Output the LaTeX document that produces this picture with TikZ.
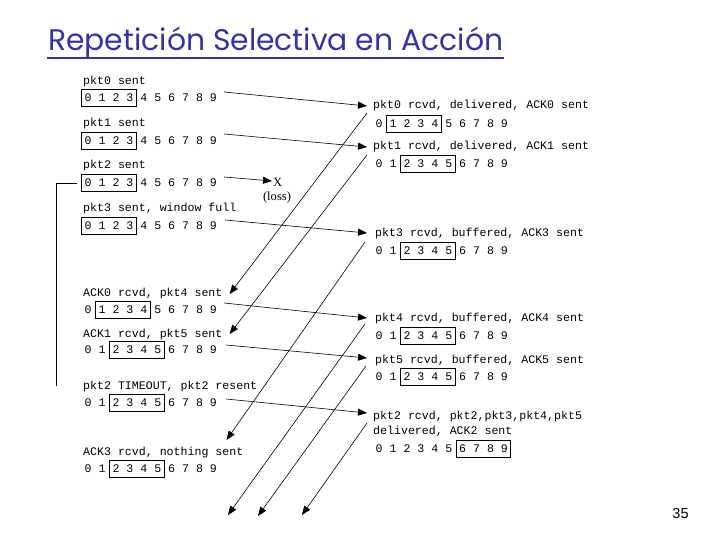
\documentclass[tikz,border=0pt]{standalone}
\usepackage{fontspec}
\setmainfont{Liberation Serif}
\newfontfamily\monof{Liberation Mono}
\newfontfamily\titlef{Poppins}
\newfontfamily\sansf{Liberation Sans}
\usetikzlibrary{arrows.meta,calc}
\definecolor{titleblue}{RGB}{51,51,170}
% window box: x of digit 0 centre, y of row, first, last
\newcommand\wbox[4]{\draw[winbox] ({#1+13.9*#3-6.5},{#2-8.5}) rectangle ({#1+13.9*#4+6.5},{#2+8.5});}
\begin{document}
\begin{tikzpicture}[x=1pt,y=-1pt,
  lbl/.style={font=\monof\fontsize{11.6}{12}\selectfont, anchor=west, inner sep=0pt},
  msg/.style={-{Triangle[length=9pt,width=7pt]}, line width=0.6pt},
  plain/.style={line width=0.8pt},
  winbox/.style={line width=0.8pt}]
\useasboundingbox[fill=white] (0,0) rectangle (720,540);

% title
\node[font=\titlef\fontsize{29.8}{32}\selectfont, text=titleblue, anchor=base west, inner sep=0pt] (title) at (48,51) {Repetición Selectiva en Acción};
\draw[titleblue, line width=1.6pt] ([shift={(-1,7)}]title.base west) -- ([shift={(1,7)}]title.base east);

% sender side
\node[lbl] (s0) at (83,82) {pkt0 sent};
\node[lbl] (w0) at (84.5,98) {0 1 2 3 4 5 6 7 8 9};
\wbox{88}{98}{0}{3}
\node[lbl] (s1) at (83,124) {pkt1 sent};
\node[lbl] (w1) at (84.5,141) {0 1 2 3 4 5 6 7 8 9};
\wbox{88}{141}{0}{3}
\node[lbl] (s2) at (83,166) {pkt2 sent};
\node[lbl] (w2) at (84.5,183) {0 1 2 3 4 5 6 7 8 9};
\wbox{88}{183}{0}{3}
\node[lbl] (s3) at (83,209) {pkt3 sent, window full};
\node[lbl] (w3) at (84.5,226) {0 1 2 3 4 5 6 7 8 9};
\wbox{88}{226}{0}{3}
\node[lbl] (a0) at (83,294) {ACK0 rcvd, pkt4 sent};
\node[lbl] (wa0) at (84.5,310) {0 1 2 3 4 5 6 7 8 9};
\wbox{88}{310}{1}{4}
\node[lbl] (a1) at (83,334) {ACK1 rcvd, pkt5 sent};
\node[lbl] (wa1) at (84.5,350) {0 1 2 3 4 5 6 7 8 9};
\wbox{88}{350}{2}{5}
\node[lbl] (tm) at (83,386) {pkt2 TIMEOUT, pkt2 resent};
\node[lbl] (wt) at (84.5,403) {0 1 2 3 4 5 6 7 8 9};
\wbox{88}{403}{2}{5}
\node[lbl] (a3) at (83,452) {ACK3 rcvd, nothing sent};
\node[lbl] (wa3) at (84.5,469) {0 1 2 3 4 5 6 7 8 9};
\wbox{88}{469}{2}{5}

% receiver side
\node[lbl] (r0) at (373,106) {pkt0 rcvd, delivered, ACK0 sent};
\node[lbl] (v0) at (375.5,124) {0 1 2 3 4 5 6 7 8 9};
\wbox{379}{124}{1}{4}
\node[lbl] (r1) at (373,147) {pkt1 rcvd, delivered, ACK1 sent};
\node[lbl] (v1) at (375.5,164) {0 1 2 3 4 5 6 7 8 9};
\wbox{379}{164}{2}{5}
\node[lbl] (r3) at (375,234) {pkt3 rcvd, buffered, ACK3 sent};
\node[lbl] (v3) at (375.5,251) {0 1 2 3 4 5 6 7 8 9};
\wbox{379}{251}{2}{5}
\node[lbl] (r4) at (375,318) {pkt4 rcvd, buffered, ACK4 sent};
\node[lbl] (v4) at (375.5,336) {0 1 2 3 4 5 6 7 8 9};
\wbox{379}{336}{2}{5}
\node[lbl] (r5) at (375,360) {pkt5 rcvd, buffered, ACK5 sent};
\node[lbl] (v5) at (375.5,377) {0 1 2 3 4 5 6 7 8 9};
\wbox{379}{377}{2}{5}
\node[lbl] (r2) at (373,416) {pkt2 rcvd, pkt2,pkt3,pkt4,pkt5};
\node[lbl] (r2b) at (373,431) {delivered, ACK2 sent};
\node[lbl] (v2) at (375.5,449) {0 1 2 3 4 5 6 7 8 9};
\wbox{379}{449}{6}{9}

% loss
\node[font=\fontsize{12.6}{14}\selectfont, anchor=west, inner sep=0pt] (lossx) at (273,182) {X};
\node[font=\fontsize{12.6}{14}\selectfont, inner sep=0pt] (loss) at (277,197) {(loss)};

% timeout line
\coordinate (tmo) at (56,386);
\draw[plain] (tmo) |- ([shift={(-8,0)}]w2.west);

% data packets
\draw[msg] ([shift={(7,-6)}]w0.east) -- ([shift={(-6,0)}]r0.west);
\draw[msg] ([shift={(7,-7)}]w1.east) -- ([shift={(-6,0)}]r1.west);
\draw[msg] ([shift={(7,-6)}]w2.east) -- ([shift={(-1,-1)}]lossx.west);
\draw[msg] ([shift={(8,-6)}]w3.east) -- ([shift={(-8,-1)}]r3.west);
\draw[msg] ([shift={(7,-7)}]wa0.east) -- ([shift={(-8,0)}]r4.west);
\draw[msg] ([shift={(9,-5)}]wa1.east) -- ([shift={(-8,-2)}]r5.west);
\draw[msg] ([shift={(9,-4)}]wt.east) -- ([shift={(-6,-3)}]r2.west);

% acks
\coordinate (e4) at (228,515);
\coordinate (e5) at (258,516);
\coordinate (e2) at (302,515);
\draw[msg] ([shift={(-6,7)}]r0.west) -- ([shift={(7,0)}]a0.east);
\draw[msg] ([shift={(-6,8)}]r1.west) -- ([shift={(7,0)}]a1.east);
\draw[msg] ([shift={(-10,8)}]r3.west) -- ([shift={(-17,-12)}]a3.east);
\draw[msg] ([shift={(-10,6)}]r4.west) -- (e4);
\draw[msg] ([shift={(-9,6)}]r5.west) -- (e5);
\draw[msg] ([shift={(-6,7)}]r2.west) -- (e2);

% page number
\node[font=\sansf\fontsize{14.5}{16}\selectfont, inner sep=0pt] (pg) at (680.5,514) {35};
\end{tikzpicture}
\end{document}
